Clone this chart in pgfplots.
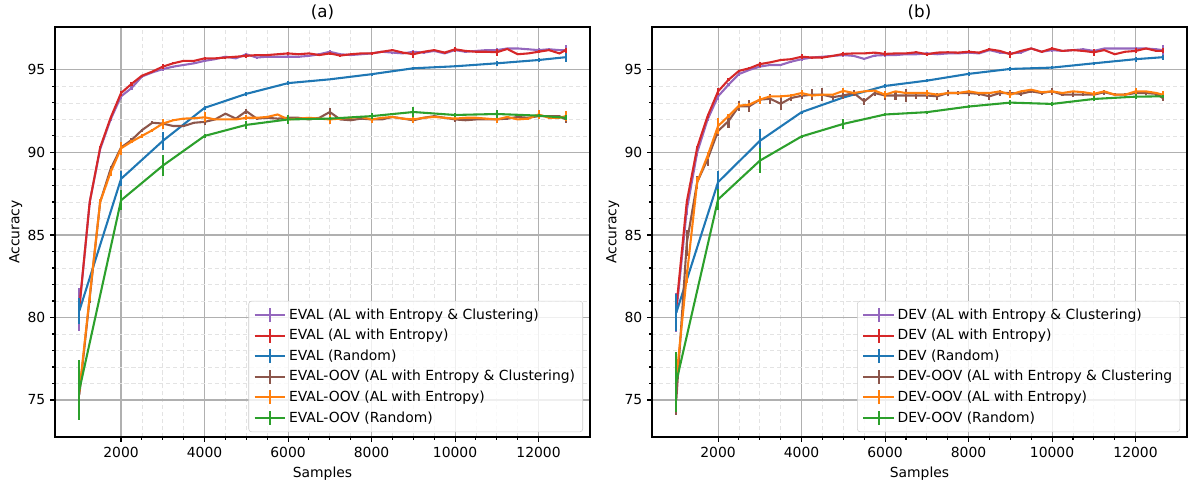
\documentclass[border=0pt]{standalone}
\usepackage{fontspec}
\setmainfont{DejaVu Sans}
\usepackage{pgfplots}
\pgfplotsset{compat=1.18}

\definecolor{tabblue}{HTML}{1F77B4}
\definecolor{taborange}{HTML}{FF7F0E}
\definecolor{tabgreen}{HTML}{2CA02C}
\definecolor{tabred}{HTML}{D62728}
\definecolor{tabpurple}{HTML}{9467BD}
\definecolor{tabbrown}{HTML}{8C564B}

\pgfplotsset{
  accstyle/.style={
    scale only axis, width=385.2pt, height=295.2pt,
    xmin=418, xmax=13232, ymin=72.76, ymax=97.6,
    xtick={2000,4000,...,12000}, ytick={75,80,...,95},
    minor x tick num=3, minor y tick num=4,
    scaled x ticks=false,
    /pgf/number format/1000 sep={},
    /pgf/number format/assume math mode=true,
    tick label style={font=\fontsize{10}{12}\selectfont},
    label style={font=\fontsize{10}{12}\selectfont},
    title style={font=\fontsize{12}{14}\selectfont, yshift=-4.5pt},
    xlabel={Samples}, ylabel={Accuracy}, ylabel shift=-3pt,
    grid=both,
    major grid style={draw=black!31, line width=0.8pt},
    minor grid style={draw=black!11, dash pattern=on 3pt off 2pt, line width=0.6pt},
    tick align=outside, tick pos=left,
    major tick length=3.5pt, minor tick length=2pt,
    every tick/.style={black, line width=0.8pt},
    axis line style={line width=0.8pt},
    legend style={at={(0.987,0.012)}, anchor=south east, draw=black!20,
      fill=white, fill opacity=0.8, text opacity=1, rounded corners=2pt,
      font=\fontsize{10}{12}\selectfont, row sep=1.7pt, inner sep=3.5pt},
    legend cell align=left,
    legend image code/.code={
      \draw[#1,line width=1.5pt] (0pt,0pt) -- (22pt,0pt);
      \draw[#1,line width=1.5pt] (11pt,-5pt) -- (11pt,5pt);},
  },
  eb/.style={mark=none, line width=1.5pt,
    error bars/y dir=both, error bars/y explicit,
    error bars/error mark=none, error bars/error bar style={line width=1.5pt}},
}

\begin{document}
\begin{tikzpicture}
\path[use as bounding box] (0,0) rectangle (858.24pt,346.32pt);

% ---------------- (a) EVAL ----------------
\begin{axis}[accstyle, at={(39.6pt,31.68pt)}, anchor=south west, title={(a)}]
\addplot[tabpurple, eb] table[x=x, y=y, y error=e] {
x y e
1000 80.5 1.3
1250 87.0 0.2
1500 90.2 0.1
1750 92.0 0.1
2000 93.4 0.15
2250 93.9 0.1
2500 94.6 0.1
2750 94.85 0.05
3000 95.05 0.1
3250 95.2 0.05
3500 95.3 0.05
3750 95.4 0.05
4000 95.55 0.1
4250 95.65 0.05
4500 95.8 0.05
4750 95.7 0.05
5000 95.95 0.1
5250 95.75 0.05
5500 95.8 0.05
5750 95.8 0.05
6000 95.8 0.1
6250 95.8 0.05
6500 95.85 0.05
6750 95.95 0.05
7000 96.1 0.1
7250 95.95 0.05
7500 95.9 0.05
7750 95.95 0.05
8000 96.0 0.1
8250 96.1 0.05
8500 96.05 0.05
8750 96.0 0.05
9000 96.1 0.1
9250 96.05 0.05
9500 96.15 0.05
9750 96.0 0.05
10000 96.2 0.1
10250 96.1 0.05
10500 96.15 0.05
10750 96.2 0.05
11000 96.2 0.1
11250 96.3 0.05
11500 96.3 0.05
11750 96.25 0.05
12000 96.2 0.1
12250 96.25 0.05
12500 96.2 0.05
12650 96.2 0.3
};
\addlegendentry{EVAL (AL with Entropy \& Clustering)}
\addplot[tabred, eb] table[x=x, y=y, y error=e] {
x y e
1000 80.6 0.5
1250 87.0 0.2
1500 90.3 0.1
1750 92.1 0.1
2000 93.6 0.15
2250 94.15 0.1
2500 94.65 0.05
2750 94.9 0.05
3000 95.2 0.15
3250 95.4 0.05
3500 95.55 0.05
3750 95.55 0.05
4000 95.7 0.1
4250 95.7 0.05
4500 95.75 0.05
4750 95.8 0.05
5000 95.85 0.1
5250 95.9 0.05
5500 95.9 0.05
5750 95.95 0.05
6000 96.0 0.1
6250 95.95 0.05
6500 96.0 0.05
6750 95.9 0.05
7000 96.0 0.1
7250 95.87 0.05
7500 95.95 0.05
7750 96.0 0.05
8000 96.0 0.1
8250 96.1 0.05
8500 96.2 0.05
8750 96.05 0.05
9000 95.95 0.2
9250 96.1 0.05
9500 96.2 0.05
9750 96.05 0.05
10000 96.25 0.15
10250 96.15 0.05
10500 96.1 0.05
10750 96.1 0.05
11000 96.07 0.2
11250 96.27 0.05
11500 95.95 0.05
11750 96.0 0.05
12000 96.1 0.1
12250 96.2 0.05
12500 96.0 0.05
12650 96.2 0.15
};
\addlegendentry{EVAL (AL with Entropy)}
\addplot[tabblue, eb] table[x=x, y=y, y error=e] {
x y e
1000 80.4 0.8
2000 88.4 0.45
3000 90.7 0.55
4000 92.7 0.1
5000 93.55 0.1
6000 94.2 0.1
7000 94.43 0.05
8000 94.74 0.1
9000 95.1 0.1
10000 95.22 0.05
11000 95.4 0.15
12000 95.6 0.15
12650 95.77 0.27
};
\addlegendentry{EVAL (Random)}
\addplot[tabbrown, eb] table[x=x, y=y, y error=e] {
x y e
1000 75.3 0.3
1250 81.2 0.3
1500 87.0 0.2
1750 89.0 0.2
2000 90.3 0.3
2250 90.75 0.1
2500 91.35 0.1
2750 91.8 0.1
3000 91.75 0.1
3250 91.6 0.05
3500 91.6 0.05
3750 91.8 0.05
4000 91.85 0.2
4250 92.0 0.05
4500 92.35 0.05
4750 92.05 0.05
5000 92.5 0.15
5250 92.05 0.05
5500 92.1 0.05
5750 92.05 0.05
6000 92.1 0.1
6250 92.1 0.05
6500 92.0 0.05
6750 92.1 0.05
7000 92.45 0.25
7250 92.0 0.05
7500 91.95 0.05
7750 92.05 0.05
8000 92.0 0.1
8250 92.0 0.05
8500 92.15 0.05
8750 92.05 0.05
9000 91.95 0.1
9250 92.1 0.05
9500 92.2 0.05
9750 92.1 0.05
10000 92.0 0.15
10250 91.95 0.05
10500 92.0 0.05
10750 92.0 0.05
11000 92.0 0.1
11250 92.05 0.05
11500 92.15 0.05
11750 92.1 0.05
12000 92.2 0.2
12250 92.2 0.05
12500 92.2 0.05
12650 92.0 0.2
};
\addlegendentry{EVAL-OOV (AL with Entropy \& Clustering)}
\addplot[taborange, eb] table[x=x, y=y, y error=e] {
x y e
1000 75.5 0.6
1250 81.3 0.3
1500 87.0 0.2
1750 88.8 0.2
2000 90.25 0.4
2250 90.65 0.1
2500 91.0 0.1
2750 91.35 0.1
3000 91.75 0.3
3250 91.95 0.05
3500 92.05 0.05
3750 92.07 0.05
4000 92.13 0.3
4250 92.0 0.05
4500 92.0 0.05
4750 92.0 0.05
5000 92.1 0.15
5250 92.1 0.05
5500 92.15 0.05
5750 92.3 0.05
6000 92.0 0.2
6250 92.05 0.05
6500 92.1 0.05
6750 92.05 0.05
7000 92.0 0.25
7250 92.05 0.05
7500 92.1 0.05
7750 92.15 0.05
8000 92.0 0.2
8250 92.1 0.05
8500 92.15 0.05
8750 92.05 0.05
9000 92.0 0.2
9250 92.1 0.05
9500 92.15 0.05
9750 92.1 0.05
10000 92.05 0.1
10250 92.1 0.05
10500 92.1 0.05
10750 92.05 0.05
11000 92.0 0.2
11250 92.15 0.05
11500 92.0 0.05
11750 92.05 0.05
12000 92.3 0.25
12250 92.1 0.05
12500 92.1 0.05
12650 92.2 0.3
};
\addlegendentry{EVAL-OOV (AL with Entropy)}
\addplot[tabgreen, eb] table[x=x, y=y, y error=e] {
x y e
1000 75.6 1.8
2000 87.1 0.6
3000 89.2 0.65
4000 91.0 0.1
5000 91.67 0.25
6000 92.0 0.25
7000 92.05 0.1
8000 92.2 0.2
9000 92.45 0.3
10000 92.27 0.1
11000 92.33 0.25
12000 92.23 0.1
12650 92.1 0.15
};
\addlegendentry{EVAL-OOV (Random)}
\end{axis}

% ---------------- (b) DEV ----------------
\begin{axis}[accstyle, at={(469.44pt,31.68pt)}, anchor=south west, title={(b)}]
\addplot[tabpurple, eb] table[x=x, y=y, y error=e] {
x y e
1000 80.3 1.2
1250 86.5 0.3
1500 90.0 0.2
1750 92.0 0.1
2000 93.4 0.2
2250 94.1 0.1
2500 94.75 0.1
2750 95.0 0.05
3000 95.2 0.1
3250 95.3 0.05
3500 95.3 0.05
3750 95.5 0.05
4000 95.65 0.1
4250 95.75 0.05
4500 95.8 0.05
4750 95.85 0.05
5000 95.9 0.1
5250 95.85 0.05
5500 95.67 0.05
5750 95.87 0.05
6000 95.9 0.1
6250 95.9 0.05
6500 95.95 0.05
6750 95.95 0.05
7000 96.0 0.1
7250 95.95 0.05
7500 96.0 0.05
7750 96.0 0.05
8000 96.05 0.1
8250 96.0 0.05
8500 96.2 0.05
8750 96.05 0.05
9000 96.0 0.1
9250 96.05 0.05
9500 96.3 0.05
9750 96.1 0.05
10000 96.2 0.1
10250 96.15 0.05
10500 96.2 0.05
10750 96.25 0.05
11000 96.15 0.1
11250 96.3 0.05
11500 96.3 0.05
11750 96.3 0.05
12000 96.3 0.1
12250 96.3 0.05
12500 96.25 0.05
12650 96.2 0.3
};
\addlegendentry{DEV (AL with Entropy \& Clustering)}
\addplot[tabred, eb] table[x=x, y=y, y error=e] {
x y e
1000 80.6 0.6
1250 87.0 0.2
1500 90.3 0.1
1750 92.2 0.1
2000 93.7 0.2
2250 94.4 0.1
2500 94.94 0.05
2750 95.1 0.05
3000 95.35 0.15
3250 95.46 0.05
3500 95.6 0.05
3750 95.65 0.05
4000 95.8 0.15
4250 95.75 0.05
4500 95.75 0.05
4750 95.85 0.05
5000 95.97 0.1
5250 96.0 0.05
5500 96.0 0.05
5750 96.05 0.05
6000 95.97 0.15
6250 96.0 0.05
6500 96.0 0.05
6750 96.07 0.05
7000 95.95 0.1
7250 96.05 0.05
7500 96.07 0.05
7750 96.05 0.05
8000 96.1 0.1
8250 96.05 0.05
8500 96.25 0.05
8750 96.15 0.05
9000 95.95 0.2
9250 96.15 0.05
9500 96.3 0.05
9750 96.1 0.05
10000 96.3 0.1
10250 96.15 0.05
10500 96.2 0.05
10750 96.15 0.05
11000 96.07 0.2
11250 96.2 0.05
11500 95.95 0.05
11750 96.1 0.05
12000 96.15 0.15
12250 96.3 0.05
12500 96.15 0.05
12650 96.15 0.15
};
\addlegendentry{DEV (AL with Entropy)}
\addplot[tabblue, eb] table[x=x, y=y, y error=e] {
x y e
1000 80.3 1.1
2000 88.2 0.7
3000 90.7 0.75
4000 92.44 0.1
5000 93.33 0.1
6000 94.03 0.1
7000 94.35 0.1
8000 94.76 0.1
9000 95.06 0.1
10000 95.14 0.1
11000 95.4 0.1
12000 95.65 0.15
12650 95.77 0.15
};
\addlegendentry{DEV (Random)}
\addplot[tabbrown, eb] table[x=x, y=y, y error=e] {
x y e
1000 75.0 0.9
1250 84.5 0.8
1500 88.2 0.4
1750 89.6 0.4
2000 91.3 0.3
2250 91.9 0.4
2500 92.8 0.3
2750 92.8 0.35
3000 93.2 0.2
3250 93.25 0.3
3500 92.95 0.35
3750 93.3 0.2
4000 93.43 0.2
4250 93.5 0.35
4500 93.5 0.4
4750 93.35 0.2
5000 93.45 0.2
5250 93.6 0.2
5500 93.1 0.2
5750 93.6 0.2
6000 93.45 0.3
6250 93.45 0.3
6500 93.45 0.4
6750 93.45 0.2
7000 93.45 0.2
7250 93.4 0.2
7500 93.6 0.2
7750 93.6 0.1
8000 93.6 0.15
8250 93.55 0.1
8500 93.4 0.25
8750 93.6 0.2
9000 93.6 0.2
9250 93.55 0.1
9500 93.7 0.1
9750 93.6 0.1
10000 93.7 0.2
10250 93.5 0.1
10500 93.5 0.15
10750 93.5 0.1
11000 93.5 0.1
11250 93.65 0.15
11500 93.5 0.1
11750 93.5 0.1
12000 93.6 0.1
12250 93.6 0.1
12500 93.55 0.1
12650 93.3 0.2
};
\addlegendentry{DEV-OOV (AL with Entropy \& Clustering}
\addplot[taborange, eb] table[x=x, y=y, y error=e] {
x y e
1000 76.3 0.8
1250 82.5 0.4
1500 88.2 0.3
1750 89.8 0.2
2000 91.6 0.5
2250 92.2 0.1
2500 92.83 0.15
2750 92.9 0.1
3000 93.2 0.25
3250 93.4 0.1
3500 93.4 0.1
3750 93.45 0.1
4000 93.6 0.2
4250 93.45 0.05
4500 93.5 0.05
4750 93.5 0.05
5000 93.73 0.15
5250 93.6 0.05
5500 93.7 0.05
5750 93.75 0.05
6000 93.5 0.2
6250 93.7 0.05
6500 93.6 0.05
6750 93.6 0.05
7000 93.6 0.2
7250 93.5 0.05
7500 93.6 0.05
7750 93.6 0.05
8000 93.7 0.1
8250 93.6 0.05
8500 93.6 0.05
8750 93.7 0.05
9000 93.5 0.2
9250 93.7 0.05
9500 93.8 0.05
9750 93.65 0.05
10000 93.7 0.1
10250 93.6 0.05
10500 93.7 0.05
10750 93.65 0.05
11000 93.55 0.15
11250 93.7 0.05
11500 93.5 0.05
11750 93.5 0.05
12000 93.7 0.2
12250 93.7 0.05
12500 93.6 0.05
12650 93.5 0.2
};
\addlegendentry{DEV-OOV (AL with Entropy)}
\addplot[tabgreen, eb] table[x=x, y=y, y error=e] {
x y e
1000 76.1 1.8
2000 87.15 0.65
3000 89.5 0.75
4000 90.97 0.1
5000 91.73 0.3
6000 92.3 0.1
7000 92.44 0.1
8000 92.78 0.1
9000 93.02 0.15
10000 92.94 0.1
11000 93.24 0.15
12000 93.38 0.15
12650 93.4 0.1
};
\addlegendentry{DEV-OOV (Random)}
\end{axis}
\end{tikzpicture}
\end{document}
